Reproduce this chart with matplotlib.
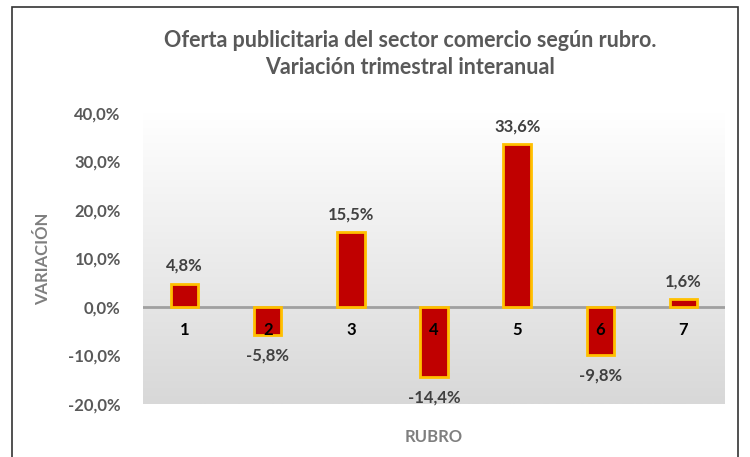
import numpy as np
import matplotlib.pyplot as plt
from matplotlib.colors import LinearSegmentedColormap
from matplotlib.patches import Rectangle

plt.rcParams['font.family'] = ['Lato', 'DejaVu Sans']

# variación trimestral interanual por rubro (%)
rubros = ['1', '2', '3', '4', '5', '6', '7']
variacion = [4.8, -5.8, 15.5, -14.4, 33.6, -9.8, 1.6]
y_ticks = [-20, -10, 0, 10, 20, 30, 40]

fig = plt.figure(figsize=(7.5, 4.57), dpi=100)
fig.patches.append(Rectangle((12 / 750, -0.01), (738 - 12) / 750, 1 - 7 / 457 + 0.01,
                             transform=fig.transFigure, fill=False,
                             edgecolor='#333333', linewidth=1.2))
ax = fig.add_axes([143 / 750, 1 - 404 / 457, (725 - 143) / 750, (404 - 113) / 457])

x = np.arange(len(rubros))
ax.set_xlim(-0.5, len(rubros) - 0.5)
ax.set_ylim(-20, 40)

# fondo degradado del área de trazado
grad = LinearSegmentedColormap.from_list('fondo', ['#d8d8d8', '#ffffff'])
ax.imshow(np.linspace(0, 1, 256).reshape(-1, 1), cmap=grad, aspect='auto',
          extent=(-0.5, len(rubros) - 0.5, -20, 40), origin='lower', zorder=0)

ax.bar(x, variacion, width=0.33, color='#c00000', edgecolor='#ffc000',
       linewidth=2, zorder=2)
ax.axhline(0, color='#a0a0a0', linewidth=2, zorder=1)

for xi, v in zip(x, variacion):
    lbl = f'{v:.1f}%'.replace('.', ',')
    if v >= 0:
        ax.annotate(lbl, (xi, v), xytext=(0, 7), textcoords='offset points',
                    ha='center', va='bottom', fontsize=12, fontweight='bold',
                    color='#404040', zorder=4)
    else:
        ax.annotate(lbl, (xi, v), xytext=(0, -9), textcoords='offset points',
                    ha='center', va='top', fontsize=12, fontweight='bold',
                    color='#404040', zorder=4)

# etiquetas de categoría junto a la línea de cero
for xi, r in zip(x, rubros):
    ax.text(xi, -4.8, r, ha='center', va='center', fontsize=12,
            fontweight='bold', color='black', zorder=3)

ax.set_xticks([])
ax.set_yticks(y_ticks)
ax.set_yticklabels([f'{t:.1f}%'.replace('.', ',') for t in y_ticks],
                   fontsize=12, fontweight='bold', color='#595959')
ax.tick_params(axis='y', length=0, pad=16)
for s in ax.spines.values():
    s.set_visible(False)

ax.set_ylabel('VARIACIÓN', fontsize=12, fontweight='bold', color='#7f7f7f',
              labelpad=12)
ax.set_xlabel('RUBRO', fontsize=12, fontweight='bold', color='#7f7f7f',
              labelpad=18)

fig.text(410 / 750, 1 - 54 / 457,
         'Oferta publicitaria del sector comercio según rubro.\nVariación trimestral interanual',
         ha='center', va='center', fontsize=15.5, fontweight='bold',
         color='#595959', linespacing=1.3)

fig.savefig('out.png', dpi=100)
